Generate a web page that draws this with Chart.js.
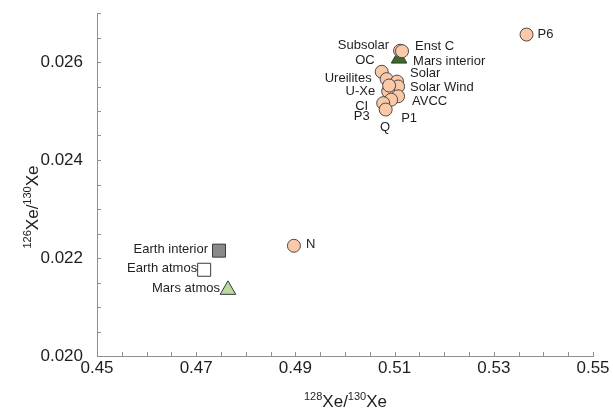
<!DOCTYPE html>
<html>
<head>
<meta charset="utf-8">
<script src="https://cdn.jsdelivr.net/npm/chart.js@4"></script>
<style>
  html, body { margin: 0; padding: 0; background: #fff; }
  #wrap { width: 613px; height: 411px; position: relative; }
</style>
</head>
<body>
<div id="wrap"><canvas id="c"></canvas></div>
<script>
// ---- Data ----
const circleNames = ["Subsolar", "Enst C", "OC", "Ureilites", "Solar", "Solar Wind", "U-Xe", "AVCC", "P1", "CI", "P3", "Q", "P6", "N"];
const circleX = [0.5111, 0.5115, 0.5074, 0.5084, 0.5105, 0.5107, 0.5087, 0.5107, 0.5093, 0.5077, 0.5082, 0.5089, 0.5366, 0.4897];
const circleY = [0.02623, 0.02622, 0.02580, 0.02565, 0.02560, 0.02550, 0.02540, 0.02530, 0.02523, 0.02516, 0.02503, 0.02552, 0.02656, 0.02225];

const marsInteriorName = ["Mars interior"];
const marsInteriorX = [0.5109];
const marsInteriorY = [0.02607];

const earthInteriorName = ["Earth interior"];
const earthInteriorX = [0.4746];
const earthInteriorY = [0.02215];

const earthAtmosName = ["Earth atmos"];
const earthAtmosX = [0.4716];
const earthAtmosY = [0.02176];

const marsAtmosName = ["Mars atmos"];
const marsAtmosX = [0.4764];
const marsAtmosY = [0.02135];

const xTickLabels = ["0.45", "0.47", "0.49", "0.51", "0.53", "0.55"];
const yTickLabels = ["0.020", "0.022", "0.024", "0.026"];

// ---- Label placement (style, pixels relative to marker) ----
const circleLabelPlace = [
  [-11, -5, "right"], [13, -5, "left"], [-7, -11, "right"], [-15, -1, "right"],
  [13, -8, "left"], [12, 1, "left"], [-13, 0, "right"], [14, 5, "left"],
  [10, 19, "left"], [-15, 3, "right"], [-16, 7, "right"], [-4, 42, "center"],
  [11, 0, "left"], [12, -1, "left"]
];
const marsInteriorPlace = [[14, 3, "left"]];
const earthInteriorPlace = [[-11, -1, "right"]];
const earthAtmosPlace = [[-7, -1, "right"]];
const marsAtmosPlace = [[-8, -1, "right"]];

const FONT = "'Liberation Sans', Arial, Helvetica, sans-serif";
const AXIS_COLOR = "#8f8f8f";
const TEXT_COLOR = "#1e1e1e";

function pts(xs, ys) { return xs.map((x, i) => ({ x: x, y: ys[i] })); }

const datasets = [
  { label: "circles", data: pts(circleX, circleY), names: circleNames, place: circleLabelPlace,
    pointStyle: "circle", pointRadius: 6.5, pointBackgroundColor: "#fbc8a8", pointBorderColor: "#4a4a4a", pointBorderWidth: 1 },
  { label: "marsInterior", data: pts(marsInteriorX, marsInteriorY), names: marsInteriorName, place: marsInteriorPlace,
    pointStyle: "triangle", pointRadius: 9, pointBackgroundColor: "#3d6a2b", pointBorderColor: "#2a3d22", pointBorderWidth: 1 },
  { label: "earthInterior", data: pts(earthInteriorX, earthInteriorY), names: earthInteriorName, place: earthInteriorPlace,
    pointStyle: "rect", pointRadius: 9.2, pointBackgroundColor: "#8a8a8a", pointBorderColor: "#3a3a3a", pointBorderWidth: 1 },
  { label: "earthAtmos", data: pts(earthAtmosX, earthAtmosY), names: earthAtmosName, place: earthAtmosPlace,
    pointStyle: "rect", pointRadius: 9.2, pointBackgroundColor: "#ffffff", pointBorderColor: "#3a3a3a", pointBorderWidth: 1 },
  { label: "marsAtmos", data: pts(marsAtmosX, marsAtmosY), names: marsAtmosName, place: marsAtmosPlace,
    pointStyle: "triangle", pointRadius: 9, pointBackgroundColor: "#b9d99d", pointBorderColor: "#3a3a3a", pointBorderWidth: 1 }
];

const labelPlugin = {
  id: "pointLabels",
  afterDatasetsDraw(chart) {
    const ctx = chart.ctx;
    ctx.save();
    ctx.font = "13px " + FONT;
    ctx.fillStyle = TEXT_COLOR;
    ctx.textBaseline = "middle";
    chart.data.datasets.forEach((ds, di) => {
      const meta = chart.getDatasetMeta(di);
      meta.data.forEach((el, i) => {
        const p = ds.place[i];
        ctx.textAlign = p[2];
        ctx.fillText(ds.names[i], el.x + p[0], el.y + p[1]);
      });
    });
    ctx.restore();
  }
};

const tickMarkPlugin = {
  id: "inwardTicks",
  afterDraw(chart) {
    const ctx = chart.ctx;
    const xs = chart.scales.x, ys = chart.scales.y;
    const a = chart.chartArea;
    ctx.save();
    ctx.strokeStyle = AXIS_COLOR;
    ctx.lineWidth = 1;
    ctx.beginPath();
    xs.ticks.forEach(t => {
      const px = Math.round(xs.getPixelForValue(t.value)) + 0.5;
      ctx.moveTo(px, a.bottom); ctx.lineTo(px, a.bottom - 4);
    });
    ys.ticks.forEach(t => {
      const py = Math.round(ys.getPixelForValue(t.value)) + 0.5;
      ctx.moveTo(a.left, py); ctx.lineTo(a.left + 4, py);
    });
    ctx.stroke();
    ctx.restore();
  }
};

function drawIsoTitle(ctx, x, y, parts) {
  let total = 0;
  parts.forEach(p => {
    ctx.font = (p[1] ? "11px " : "17px ") + FONT;
    total += ctx.measureText(p[0]).width;
  });
  let cx = x - total / 2;
  parts.forEach(p => {
    ctx.font = (p[1] ? "11px " : "17px ") + FONT;
    ctx.fillText(p[0], cx, p[1] ? y - 7 : y);
    cx += ctx.measureText(p[0]).width;
  });
}

const titlePlugin = {
  id: "isoTitles",
  afterDraw(chart) {
    const ctx = chart.ctx;
    ctx.save();
    ctx.fillStyle = TEXT_COLOR;
    ctx.textBaseline = "alphabetic";
    ctx.textAlign = "left";
    drawIsoTitle(ctx, 345.5, 407, [["128", true], ["Xe/", false], ["130", true], ["Xe", false]]);
    ctx.translate(38, 207);
    ctx.rotate(-Math.PI / 2);
    drawIsoTitle(ctx, 0, 0, [["126", true], ["Xe/", false], ["130", true], ["Xe", false]]);
    ctx.restore();
  }
};

function labelFor(list, value) {
  const s = list.find(t => Math.abs(parseFloat(t) - value) < 1e-9);
  return s === undefined ? "" : s;
}

new Chart(document.getElementById("c"), {
  type: "scatter",
  data: { datasets: datasets },
  plugins: [labelPlugin, tickMarkPlugin, titlePlugin],
  options: {
    responsive: true,
    maintainAspectRatio: false,
    animation: false,
    layout: { padding: { left: 0, right: 20, top: 13, bottom: 0 } },
    plugins: { legend: { display: false }, tooltip: { enabled: false } },
    scales: {
      x: {
        type: "linear", min: 0.45, max: 0.55,
        afterFit(s) { s.height = 55; s.paddingLeft = 0; s.paddingRight = 0; },
        grid: { display: false, drawTicks: false },
        border: { display: true, color: AXIS_COLOR, width: 1 },
        ticks: {
          stepSize: 0.005, autoSkip: false, maxRotation: 0, padding: 2,
          color: TEXT_COLOR, font: { family: FONT, size: 17 },
          callback: v => labelFor(xTickLabels, v)
        }
      },
      y: {
        type: "linear", min: 0.020, max: 0.027,
        afterFit(s) { s.width = 97; s.paddingTop = 0; s.paddingBottom = 0; },
        grid: { display: false, drawTicks: false },
        border: { display: true, color: AXIS_COLOR, width: 1 },
        ticks: {
          stepSize: 0.0005, autoSkip: false, padding: 14,
          color: TEXT_COLOR, font: { family: FONT, size: 17 },
          callback: v => labelFor(yTickLabels, v)
        }
      }
    }
  }
});
</script>
</body>
</html>
